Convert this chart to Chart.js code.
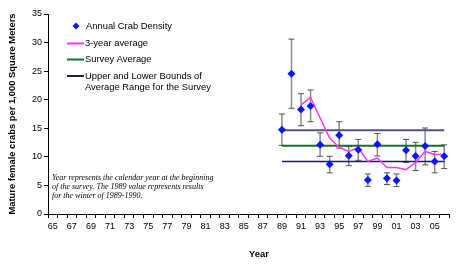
<!DOCTYPE html>
<html>
<head>
<meta charset="utf-8">
<script src="https://cdn.jsdelivr.net/npm/chart.js@4"></script>
<style>
  html, body { margin: 0; padding: 0; background: #fff; }
  #wrap { width: 475px; height: 264px; position: relative; }
</style>
</head>
<body>
<div id="wrap"><canvas id="crabChart"></canvas></div>
<script>
// x axis categories (two-digit years, 1965-2006)
const years = ['65','66','67','68','69','70','71','72','73','74','75','76','77','78','79','80','81','82','83','84',
  '85','86','87','88','89','90','91','92','93','94','95','96','97','98','99','00','01','02','03','04','05','06'];
const surveyYears = ['89','90','91','92','93','94','95','96','97','98','99','00','01','02','03','04','05','06'];

const density = [14.75, 24.55, 18.3, 18.9, 12.1, 8.7, 13.8, 10.2, 11.25, 5.95, 12.2, 6.25, 5.85, 11.15, 10.15, 11.9, 9.2, 10.1];
const errHigh = [17.5, 30.6, 21.05, 21.7, 14.2, 10.1, 16.15, 11.8, 13.05, 7.0, 14.1, 7.2, 7.0, 13.05, 12.55, 15.05, 10.95, 12.1];
const errLow  = [12.0, 18.5, 15.45, 16.15, 10.1, 7.2, 11.55, 8.45, 9.4, 4.85, 10.15, 5.15, 4.8, 9.0, 7.6, 8.6, 7.2, 7.95];
const avg3yr  = [null, null, 19.1, 20.4, 16.8, 13.3, 11.65, 10.95, 11.6, 9.2, 9.8, 8.15, 8.15, 7.75, 9.0, 10.95, 10.4, 10.4];
const surveyAvg = 11.95;
const upperBound = 14.65;
const lowerBound = 9.2;

const noteLines = [
  'Year represents the calendar year at the beginning',
  'of the survey. The 1989 value represents results',
  'for the winter of 1989-1990.'
];

const pts = arr => surveyYears.map((yr, i) => ({ x: yr, y: arr[i] }));
const flat = v => surveyYears.map(yr => ({ x: yr, y: v }));

// vertical error bars behind the diamonds
const errorBars = {
  id: 'errorBars',
  beforeDatasetsDraw(chart) {
    const ctx = chart.ctx;
    const yS = chart.scales.y;
    const meta = chart.getDatasetMeta(0);
    ctx.save();
    meta.data.forEach((p, i) => {
      const top = yS.getPixelForValue(errHigh[i]);
      const bot = yS.getPixelForValue(errLow[i]);
      ctx.strokeStyle = '#8a8a8a';
      ctx.lineWidth = 1.5;
      ctx.beginPath();
      ctx.moveTo(p.x, top);
      ctx.lineTo(p.x, bot);
      ctx.stroke();
      ctx.strokeStyle = '#505050';
      ctx.lineWidth = 1;
      ctx.beginPath();
      ctx.moveTo(p.x - 3, top); ctx.lineTo(p.x + 3, top);
      ctx.moveTo(p.x - 3, bot); ctx.lineTo(p.x + 3, bot);
      ctx.stroke();
    });
    ctx.restore();
  }
};

// legend, note and x title
const extras = {
  id: 'extras',
  afterDraw(chart) {
    const ctx = chart.ctx;
    const ds = chart.data.datasets;
    ctx.save();
    ctx.textBaseline = 'middle';
    ctx.textAlign = 'left';
    ctx.fillStyle = '#000';
    ctx.font = '9.4px "Liberation Sans", Arial, sans-serif';

    // diamond item
    ctx.fillStyle = ds[0].backgroundColor;
    ctx.beginPath();
    ctx.moveTo(76, 22.5); ctx.lineTo(79.5, 26); ctx.lineTo(76, 29.5); ctx.lineTo(72.5, 26);
    ctx.closePath();
    ctx.fill();
    ctx.fillStyle = '#000';
    ctx.fillText(ds[0].label, 86, 26);

    const items = [
      { d: ds[1], y: 43.5 },
      { d: ds[2], y: 59.5 },
      { d: ds[3], y: 76 }
    ];
    items.forEach(it => {
      ctx.strokeStyle = it.d.borderColor;
      ctx.lineWidth = 2;
      ctx.beginPath();
      ctx.moveTo(67, it.y); ctx.lineTo(84, it.y);
      ctx.stroke();
      const lines = it.d.legendText || [it.d.label];
      lines.forEach((t, k) => ctx.fillText(t, 85, it.y + k * 11));
    });

    ctx.font = 'italic 8px "Liberation Serif", "Times New Roman", serif';
    noteLines.forEach((t, k) => ctx.fillText(t, 52, 177.5 + k * 9.3));

    ctx.font = 'bold 9.4px "Liberation Sans", Arial, sans-serif';
    ctx.textAlign = 'center';
    ctx.fillText('Year', 259, 254);
    ctx.restore();
  }
};

new Chart(document.getElementById('crabChart'), {
  type: 'line',
  data: {
    labels: years,
    datasets: [
      {
        label: 'Annual Crab Density',
        data: pts(density),
        showLine: false,
        pointStyle: 'rectRot',
        pointRadius: 4,
        backgroundColor: '#0a14ff',
        borderColor: '#0a14ff',
        borderWidth: 0
      },
      {
        label: '3-year average',
        data: pts(avg3yr),
        borderColor: '#ff33ff',
        borderWidth: 1.5,
        pointRadius: 0,
        tension: 0
      },
      {
        label: 'Survey Average',
        data: flat(surveyAvg),
        borderColor: '#1e6b2e',
        borderWidth: 2,
        pointRadius: 0
      },
      {
        label: 'Upper and Lower Bounds of Average Range for the Survey',
        legendText: ['Upper and Lower Bounds of', 'Average Range for the Survey'],
        data: flat(lowerBound),
        borderColor: '#1c1c52',
        borderWidth: 1.5,
        pointRadius: 0
      },
      {
        label: 'Upper bound',
        data: flat(upperBound),
        borderColor: '#50508e',
        borderWidth: 2,
        pointRadius: 0
      }
    ]
  },
  options: {
    responsive: true,
    maintainAspectRatio: false,
    animation: false,
    layout: { padding: { left: 0, right: 26, top: 14, bottom: 4 } },
    plugins: { legend: { display: false }, tooltip: { enabled: false } },
    scales: {
      x: {
        type: 'category',
        offset: true,
        afterFit(s) { s.height = 46; },
        grid: { drawOnChartArea: false, drawTicks: true, tickLength: 4, color: '#000', offset: true },
        border: { display: true, color: '#000', width: 1 },
        ticks: {
          autoSkip: false,
          maxRotation: 0,
          padding: 3,
          color: '#000',
          font: { family: '"Liberation Sans", Arial, sans-serif', size: 9 },
          callback: (v, i) => (i % 2 === 0 ? years[i] : '')
        }
      },
      y: {
        min: 0,
        max: 35,
        afterFit(s) { s.width = 48; },
        grid: { drawOnChartArea: false, drawTicks: true, tickLength: 4, color: '#000' },
        border: { display: true, color: '#000', width: 1 },
        ticks: {
          stepSize: 5,
          padding: 2,
          color: '#000',
          font: { family: '"Liberation Sans", Arial, sans-serif', size: 9 }
        },
        title: {
          display: true,
          text: 'Mature female crabs per 1,000 Square Meters',
          color: '#000',
          padding: { top: 7, bottom: 0 },
          font: { family: '"Liberation Sans", Arial, sans-serif', size: 9.4, weight: 'bold' }
        }
      }
    }
  },
  plugins: [errorBars, extras]
});
</script>
</body>
</html>
